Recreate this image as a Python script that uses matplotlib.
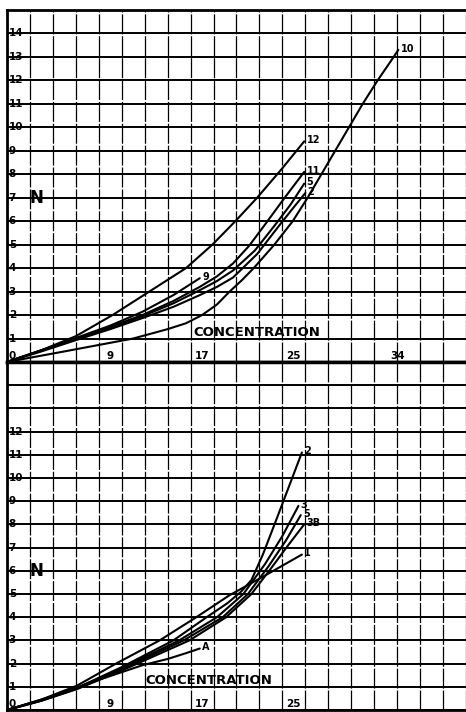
import matplotlib
matplotlib.use('Agg')
import matplotlib.pyplot as plt
import numpy as np

# upper chart: N against concentration, one list pair per numbered curve
top_x_12 = [0, 3, 6, 9.2, 12.4, 15.6, 17.9, 19.9, 21.8, 23.9, 25.9]
top_y_12 = [0, 0.5, 1.1, 2.0, 3.0, 4.0, 5.0, 6.0, 7.0, 8.2, 9.4]
top_x_10 = [0, 5, 11, 14, 15.6, 17, 18.3, 19.4, 20.5, 21.5, 22.4, 23.3, 24.1,
            24.9, 26.2, 27.4, 28.6, 29.8, 31.0, 32.3, 33.7, 34.1]
top_y_10 = [0, 0.45, 1.0, 1.4, 1.65, 2.0, 2.45, 3.0, 3.5, 4.0, 4.5, 5.0, 5.5,
            6.0, 7.0, 8.0, 9.0, 10.0, 11.0, 12.0, 13.0, 13.3]
top_x_9 = [0, 3, 6, 9, 11.8, 14.5, 16.8]
top_y_9 = [0, 0.5, 1.02, 1.55, 2.14, 2.85, 3.57]
top_x_11 = [0, 3, 6, 9, 11.8, 14.5, 16.8, 18.3, 19.7, 21.1, 22.4, 24.2, 25.9]
top_y_11 = [0, 0.5, 1.0, 1.5, 2.0, 2.6, 3.2, 3.65, 4.2, 4.95, 5.8, 7.0, 8.1]
top_x_5 = [0, 3, 6, 9, 11.8, 14.5, 16.8, 18.3, 19.7, 21.6, 23.3, 24.7, 25.9]
top_y_5 = [0, 0.48, 0.97, 1.45, 1.95, 2.5, 3.06, 3.45, 3.9, 4.75, 5.8, 6.7, 7.6]
top_x_2 = [0, 3, 6, 9, 11.8, 14.5, 16.8, 18.3, 19.7, 21.8, 23.7, 25.0, 26.0]
top_y_2 = [0, 0.45, 0.93, 1.4, 1.87, 2.35, 2.85, 3.2, 3.6, 4.6, 5.8, 6.6, 7.2]

# lower chart
bot_x_2 = [0, 3, 6.1, 10, 14.5, 17.4, 19.2, 20.4, 21.3, 22.3, 23.7, 25.7]
bot_y_2 = [0, 0.42, 0.95, 1.85, 3.0, 4.0, 4.6, 5.1, 5.6, 6.7, 8.5, 11.1]
bot_x_3 = [0, 3, 6.1, 10, 15.0, 18.3, 20.6, 22.5, 24.0, 25.4]
bot_y_3 = [0, 0.42, 0.95, 1.8, 3.0, 4.0, 5.0, 6.3, 7.5, 8.8]
bot_x_5 = [0, 3, 6.1, 10, 15.4, 18.8, 21.0, 22.8, 24.3, 25.6]
bot_y_5 = [0, 0.4, 0.92, 1.75, 3.0, 4.0, 5.0, 6.2, 7.3, 8.4]
bot_x_3b = [0, 3, 6.1, 10, 15.9, 19.1, 21.3, 23.0, 24.5, 25.9]
bot_y_3b = [0, 0.4, 0.9, 1.7, 3.0, 4.0, 5.0, 6.1, 7.1, 8.0]
bot_x_1 = [0, 3, 6.1, 9.5, 13.3, 16.5, 19.4, 22.5, 25.7]
bot_y_1 = [0, 0.45, 1.05, 2.0, 3.0, 4.0, 4.95, 5.8, 6.7]
bot_x_a = [0, 4, 8, 11.8, 14, 15.6, 16.8]
bot_y_a = [0, 0.6, 1.3, 1.93, 2.2, 2.45, 2.65]

top_curves = [(top_x_12, top_y_12, '12'), (top_x_10, top_y_10, '10'),
              (top_x_9, top_y_9, '9'), (top_x_11, top_y_11, '11'),
              (top_x_5, top_y_5, '5'), (top_x_2, top_y_2, '2')]
bot_curves = [(bot_x_2, bot_y_2, '2'), (bot_x_3, bot_y_3, '3'),
              (bot_x_5, bot_y_5, '5'), (bot_x_3b, bot_y_3b, '3B'),
              (bot_x_1, bot_y_1, '1'), (bot_x_a, bot_y_a, 'A')]

x_labels = [9, 17, 25, 34]
top_y_labels = list(range(0, 15))
bot_y_labels = list(range(0, 13))

fig = plt.figure(figsize=(4.66, 7.12), dpi=100)
ax_top = fig.add_axes([0.015, 0.4916, 0.985, 0.4944])
ax_bot = fig.add_axes([0.015, 0.0028, 0.985, 0.4888])

FONT = dict(family='DejaVu Sans', weight='bold', color='black')


def setup(ax, ymax):
    ax.set_xlim(0, 39.9)
    ax.set_ylim(0, ymax)
    ax.set_xticks(np.arange(0, 41, 2))
    ax.set_yticks(np.arange(0, 16, 1))
    ax.tick_params(length=0, labelbottom=False, labelleft=False)
    ax.xaxis.grid(True, color='black', lw=0.9, ls=(0, (16, 1.5)))
    ax.yaxis.grid(True, color='black', lw=1.4)
    ax.set_axisbelow(True)
    for s in ['left', 'top', 'bottom']:
        ax.spines[s].set_linewidth(2)
    ax.spines['right'].set_visible(False)


setup(ax_top, 15)
setup(ax_bot, 15)
ax_top.spines['bottom'].set_linewidth(2.5)
ax_bot.spines['top'].set_linewidth(2.5)

for ax, curves, ylabs, xlabs, n_y, conc_x in [
        (ax_top, top_curves, top_y_labels, x_labels, 7, 16.2),
        (ax_bot, bot_curves, bot_y_labels, x_labels[:3], 6, 12.1)]:
    for xs, ys, lab in curves:
        ax.plot(xs, ys, color='black', lw=1.5, solid_capstyle='round',
                solid_joinstyle='round')
        ax.text(xs[-1] + 0.2, ys[-1] + 0.05, lab, fontsize=7,
                ha='left', va='center', **FONT)
    for v in ylabs:
        ax.text(0.15, v + (0.25 if v == 0 else 0), str(v), fontsize=7.5,
                ha='left', va='center', **FONT)
    for v in xlabs:
        ax.text(v, 0.25, str(v), fontsize=7.5, ha='center', va='center', **FONT)
    ax.text(2.0, n_y, 'N', fontsize=12, ha='left', va='center', **FONT)
    ax.text(conc_x, 1.0, 'CONCENTRATION', fontsize=9.5, ha='left',
            va='bottom', **FONT)

fig.savefig('out.png', dpi=100)
